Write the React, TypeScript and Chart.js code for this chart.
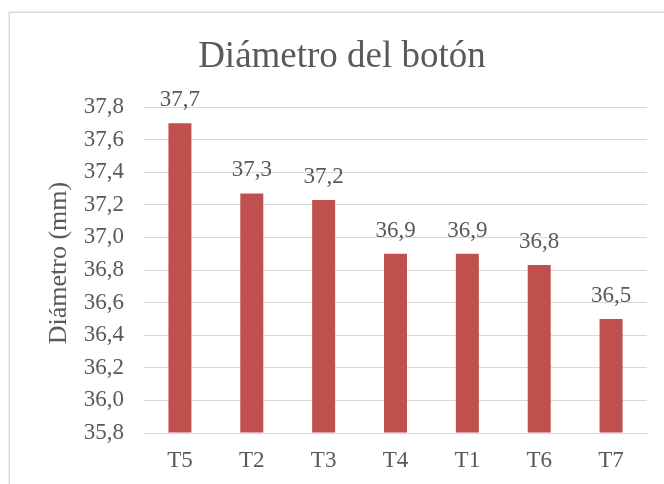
import React, { useEffect, useRef } from "react";
import { Chart, registerables } from "chart.js";

Chart.register(...registerables);

// Button diameter per treatment, sorted from largest to smallest
const categories = ["T5", "T2", "T3", "T4", "T1", "T6", "T7"];
const diameters = [37.7, 37.27, 37.23, 36.9, 36.9, 36.83, 36.5];

const yMin = 35.8;
const yMax = 37.8;
const yStep = 0.2;

const chartTitle = "Diámetro del botón";
const yAxisTitle = "Diámetro (mm)";

const FONT = '"Liberation Serif", "Times New Roman", serif';
const TEXT = "#595959";
const GRID = "#d9d9d9";
const BAR = "#c0504d";

const fmt = (v: number, digits = 1) => v.toFixed(digits).replace(".", ",");

// Frame, title, rotated axis title and value labels above the bars
const decorations = {
  id: "decorations",
  beforeDraw(chart: Chart) {
    const { ctx } = chart;
    ctx.save();
    ctx.fillStyle = "#ffffff";
    ctx.fillRect(0, 0, chart.width, chart.height);
    ctx.strokeStyle = GRID;
    ctx.lineWidth = 1.5;
    ctx.strokeRect(9.25, 12.25, chart.width + 20, chart.height + 20);
    ctx.restore();
  },
  afterDraw(chart: Chart) {
    const { ctx, chartArea } = chart;
    ctx.save();
    ctx.fillStyle = TEXT;

    // chart title
    ctx.font = `37px ${FONT}`;
    ctx.textAlign = "center";
    ctx.textBaseline = "alphabetic";
    ctx.fillText(chartTitle, 342, 67);

    // y axis title
    ctx.save();
    ctx.translate(66, (chartArea.top + chartArea.bottom) / 2 - 7);
    ctx.rotate(-Math.PI / 2);
    ctx.font = `26px ${FONT}`;
    ctx.textAlign = "center";
    ctx.textBaseline = "alphabetic";
    ctx.fillText(yAxisTitle, 0, 0);
    ctx.restore();

    // value labels
    ctx.font = `23px ${FONT}`;
    ctx.textAlign = "center";
    ctx.textBaseline = "alphabetic";
    const meta = chart.getDatasetMeta(0);
    meta.data.forEach((bar: any, i: number) => {
      const v = chart.data.datasets[0].data[i] as number;
      ctx.fillText(fmt(v), bar.x, bar.y - 17);
    });
    ctx.restore();
  },
};

export default function App() {
  const canvasRef = useRef<HTMLCanvasElement | null>(null);

  useEffect(() => {
    if (!canvasRef.current) return;
    const chart = new Chart(canvasRef.current, {
      type: "bar",
      data: {
        labels: categories,
        datasets: [
          {
            data: diameters,
            backgroundColor: BAR,
            borderWidth: 0,
            barPercentage: 0.32,
            categoryPercentage: 1,
            base: yMin,
          },
        ],
      },
      options: {
        animation: false,
        responsive: false,
        devicePixelRatio: 1,
        layout: { padding: { top: 107, right: 17, bottom: 0, left: 0 } },
        plugins: {
          legend: { display: false },
          title: { display: false },
          tooltip: { enabled: false },
        },
        scales: {
          x: {
            grid: { display: false, drawTicks: false },
            border: { display: true, color: GRID, width: 1 },
            ticks: {
              color: TEXT,
              font: { family: FONT, size: 23 },
              padding: 14,
            },
            afterFit(scale: any) {
              scale.height = 51;
            },
          },
          y: {
            min: yMin,
            max: yMax,
            grid: { color: GRID, lineWidth: 1, drawTicks: false },
            border: { display: false },
            ticks: {
              stepSize: yStep,
              color: TEXT,
              font: { family: FONT, size: 23 },
              padding: 20,
              callback: (v: any) => fmt(Number(v)),
            },
            afterFit(scale: any) {
              scale.width = 144;
            },
          },
        },
      },
      plugins: [decorations],
    });
    return () => chart.destroy();
  }, []);

  return (
    <div style={{ position: "fixed", left: 0, top: 0, width: 664, height: 484 }}>
      <canvas ref={canvasRef} width={664} height={484} style={{ display: "block" }} />
    </div>
  );
}
